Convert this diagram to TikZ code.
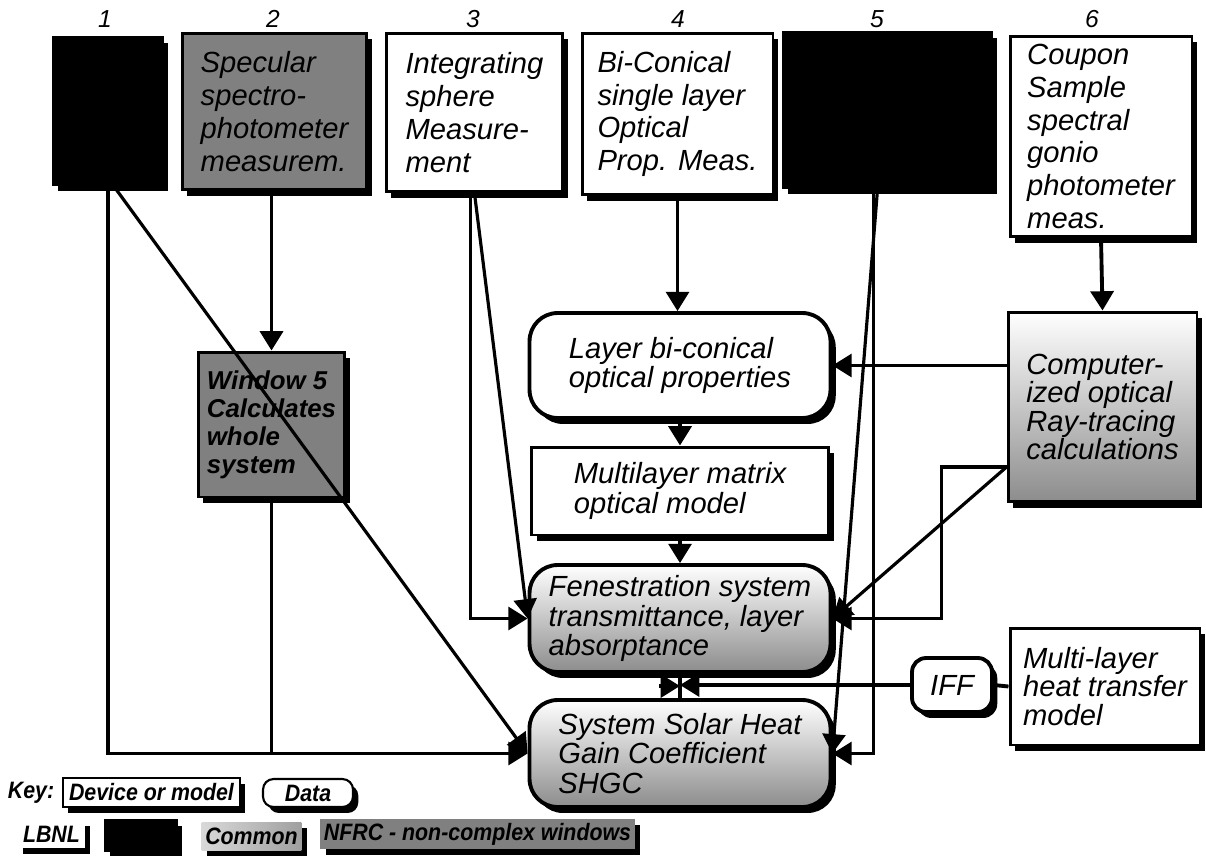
\documentclass[tikz,border=0pt]{standalone}
\usepackage{fontspec}
\setmainfont{Liberation Sans}
\newfontfamily\keyfam[FakeStretch=0.9]{Liberation Sans}
\usetikzlibrary{shapes.geometric, arrows.meta, shadows, calc}

\newcommand{\boxfont}{\fontsize{16.6}{18.7}\selectfont\itshape}
\newcommand{\lowfont}{\fontsize{16.6}{17}\selectfont\itshape}
\newcommand{\winfont}{\fontsize{14.7}{16}\selectfont\bfseries\itshape}
\newcommand{\keyfont}{\keyfam\fontsize{13.5}{14}\selectfont\bfseries\itshape}

\tikzstyle{device} = [rectangle, draw=black, line width=1.7pt, fill=white, align=left, font=\boxfont, inner sep=2pt, drop shadow={shadow xshift=3pt, shadow yshift=-3.4pt, fill=black, opacity=1}]
\tikzstyle{darkbox} = [device, fill=black]
\tikzstyle{nfrcbox} = [device, fill=gray]
\tikzstyle{databox} = [device, rounded corners=16pt, line width=2.2pt, font=\lowfont]
\tikzstyle{shadebox} = [device, top color=white, bottom color=black!45]
\tikzstyle{numlbl} = [font=\fontsize{14}{15}\selectfont\itshape]
\tikzstyle{arrow} = [line width=2.2pt, -{Triangle[length=11pt,width=13pt]}]
\tikzstyle{link} = [line width=2.2pt]

\begin{document}
\begin{tikzpicture}[x=0.02cm, y=-0.02cm]
	\useasboundingbox (0,0) rectangle (1206,856);
	% top row
	\node (m1) [darkbox, minimum width=2.2cm, minimum height=2.96cm] at (108,111) {};
	\node (m2) [nfrcbox, minimum width=3.7cm, minimum height=3.14cm] at (274.5,111.5) {Specular\\spectro-\\photometer\\measurem.};
	\node (m3) [device, minimum width=3.54cm, minimum height=3.18cm] at (474.5,112.5) {Integrating\\sphere\\Measure-\\ment};
	\node (m4) [device, minimum width=3.82cm, minimum height=3.24cm] at (677.5,114) {Bi-Conical\\single layer\\Optical\\Prop. Meas.};
	\node (m5) [darkbox, minimum width=4.18cm, minimum height=3.12cm] at (887.5,110) {};
	\node (m6) [device, minimum width=3.64cm, minimum height=4.02cm] at (1101,136.5) {Coupon\\Sample\\spectral\\gonio\\photometer\\meas.};
	\node (n1) [numlbl] at (105,19) {1};
	\node (n2) [numlbl] at (273,19) {2};
	\node (n3) [numlbl] at (473,19) {3};
	\node (n4) [numlbl] at (678,19) {4};
	\node (n5) [numlbl] at (877,19) {5};
	\node (n6) [numlbl] at (1092,19) {6};
	% middle and lower
	\node (win5) [nfrcbox, font=\winfont, minimum width=2.94cm, minimum height=2.9cm] at (271.5,424.5) {Window 5\\Calculates\\whole\\system};
	\node (layer) [databox, minimum width=6.02cm, minimum height=2.1cm] at (680,365.5) {Layer bi-conical\\optical properties};
	\node (multi) [device, font=\lowfont, minimum width=5.94cm, minimum height=1.76cm] at (680,491) {Multilayer matrix\\optical model};
	\node (fen) [databox, top color=white, bottom color=black!45, minimum width=6.02cm, minimum height=2.14cm] at (680,618.5) {Fenestration system\\transmittance, layer\\absorptance};
	\node (shgc) [databox, top color=white, bottom color=black!45, minimum width=6.02cm, minimum height=2.14cm] at (680,753.5) {System Solar Heat\\Gain Coefficient\\SHGC};
	\node (comp) [shadebox, font=\fontsize{16.6}{16.2}\selectfont\itshape, minimum width=3.78cm, minimum height=3.8cm] at (1102.5,407) {Computer-\\ized optical\\Ray-tracing\\calculations};
	\node (iff) [databox, rounded corners=8pt, minimum width=1.6cm, minimum height=1.08cm] at (952,685) {IFF};
	\node (heat) [device, font=\fontsize{16.6}{16.4}\selectfont\itshape, minimum width=3.8cm, minimum height=2.34cm] at (1105,686.5) {Multi-layer\\heat transfer\\model};
	% key
	\node (keyhd) [font=\keyfont] at (31,793) {Key:};
	\node (keydev) [device, line width=1.6pt, font=\keyfont, minimum width=3.54cm, minimum height=0.58cm] at (151.5,792.5) {Device or model};
	\node (keydata) [databox, line width=1.2pt, rounded corners=6pt, font=\keyfont, minimum width=1.8cm, minimum height=0.56cm] at (308,793) {Data};
	\node (lbnl) [device, draw=none, font=\keyfont, minimum width=1.34cm, minimum height=0.56cm] at (51.5,834) {LBNL};
	\node (keyblk) [darkbox, minimum width=1.44cm, minimum height=0.6cm] at (141,835) {};
	\node (common) [shadebox, draw=none, left color=gray!30, right color=gray!75, font=\keyfont, minimum width=1.94cm, minimum height=0.56cm] at (251.5,836) {Common};
	\node (nfrc) [nfrcbox, draw=none, font=\keyfont, minimum width=6.18cm, minimum height=0.56cm] at (477.5,834) {NFRC - non-complex windows};

	\draw [arrow] (m2.south -| win5.north) -- (win5.north);
	\draw [link] (win5.south) -- (win5.south |- shgc.west);
	\draw [arrow] (m1.south) |- (shgc.west);
	\draw [arrow, line width=1.8pt] ($(m1.south)+(6,0)$) -- (shgc.west);
	\draw [arrow] ($(m3.south)+(-4,0)$) |- (fen.west);
	\draw [arrow, line width=1.8pt] (m3.south) -- (fen.west);
	\draw [arrow] (m4.south) -- (m4.south |- layer.north);
	\draw [arrow] (layer.south) -- (multi.north);
	\draw [arrow] (multi.south) -- (fen.north);
	\draw [arrow] (m6.south) -- (comp.north);
	\draw [arrow] (comp.west |- layer.east) -- (layer.east);
	\coordinate (cq) at ($(comp.west)+(0,60)$);
	\draw [arrow, line width=1.8pt] (cq) -- (fen.east);
	\draw [arrow] (cq) -- ++(-65,0) |- (fen.east);
	\draw [arrow] ($(m5.south)+(-14,0)$) |- (shgc.east);
	\draw [arrow, line width=1.8pt] ($(m5.south)+(-10,0)$) -- (shgc.east);
	\draw [link] (fen.south) -- (shgc.north);
	\coordinate (jn) at ($(fen.south)!0.5!(shgc.north)$);
	\draw [link] (heat.west) -- (iff.east);
	\draw [arrow] (iff.west) -- (iff.west -| jn);
	\draw [arrow] ($(jn)+(-21,0)$) -- (jn);
\end{tikzpicture}
\end{document}
